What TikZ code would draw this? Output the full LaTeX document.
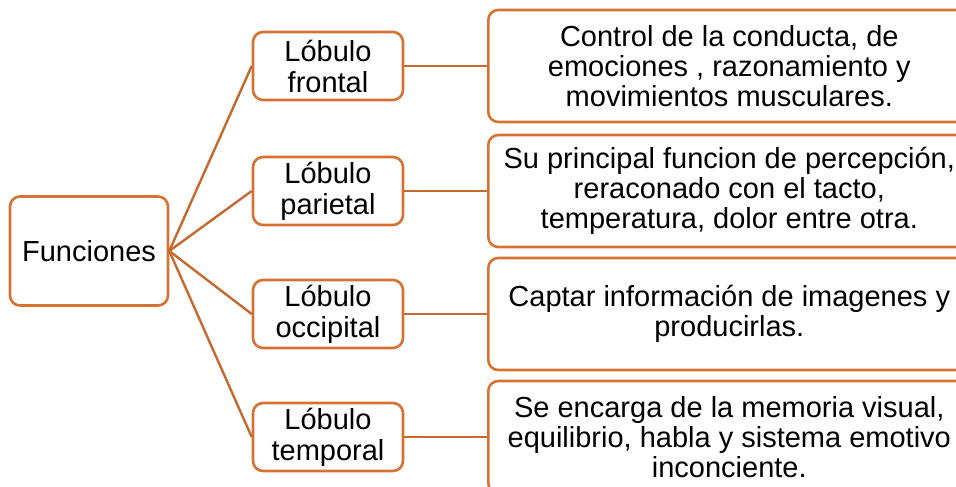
\documentclass[tikz,border=0pt]{standalone}
\usepackage{fontspec}
\setmainfont{Liberation Sans}
\usetikzlibrary{positioning}
\definecolor{lobeorange}{RGB}{214,114,50}

\begin{document}
\begin{tikzpicture}[x=1pt, y=-1pt, font=\fontsize{29}{31}\selectfont,
		box/.style={draw=lobeorange, line width=2.6pt, rounded corners=10pt, fill=white, align=center, inner sep=0pt},
		lobe/.style={box, minimum width=150pt, minimum height=68pt},
		info/.style={box, anchor=west, minimum width=482pt, minimum height=112pt},
		link/.style={draw=lobeorange!92!black, line width=2.4pt}]
		
		\useasboundingbox (0,0) rectangle (956,487);
		\clip (0,0) rectangle (956,487);
		
		% Nodes
		\node[box, minimum width=158pt, minimum height=109pt] (fun) at (89,251) {Funciones};
		
		\node[lobe] (front) at (328,66) {Lóbulo\\frontal};
		\node[lobe] (pari) at (328,191) {Lóbulo\\parietal};
		\node[lobe] (occi) at (328,314) {Lóbulo\\occipital};
		\node[lobe] (temp) at (328,437) {Lóbulo\\temporal};
		
		\node[info, font=\fontsize{29}{30}\selectfont] (frontinfo) at (487,66) {Control de la conducta, de\\emociones , razonamiento y\\movimientos musculares.};
		\node[info, font=\fontsize{29}{30}\selectfont] (pariinfo) at (487,191) {Su principal funcion de percepción,\\reraconado con el tacto,\\temperatura, dolor entre otra.};
		\node[info, font=\fontsize{29}{30}\selectfont] (occiinfo) at (487,314) {Captar información de imagenes y\\producirlas.};
		\node[info, font=\fontsize{29}{30}\selectfont] (tempinfo) at (487,437) {Se encarga de la memoria visual,\\equilibrio, habla y sistema emotivo\\inconciente.};
		
		% Links
		\foreach \l in {front, pari, occi, temp} {
			\draw[link] (fun.east) -- (\l.west);
			\draw[link] (\l.east) -- (\l info.west);
		}
		
\end{tikzpicture}
\end{document}
